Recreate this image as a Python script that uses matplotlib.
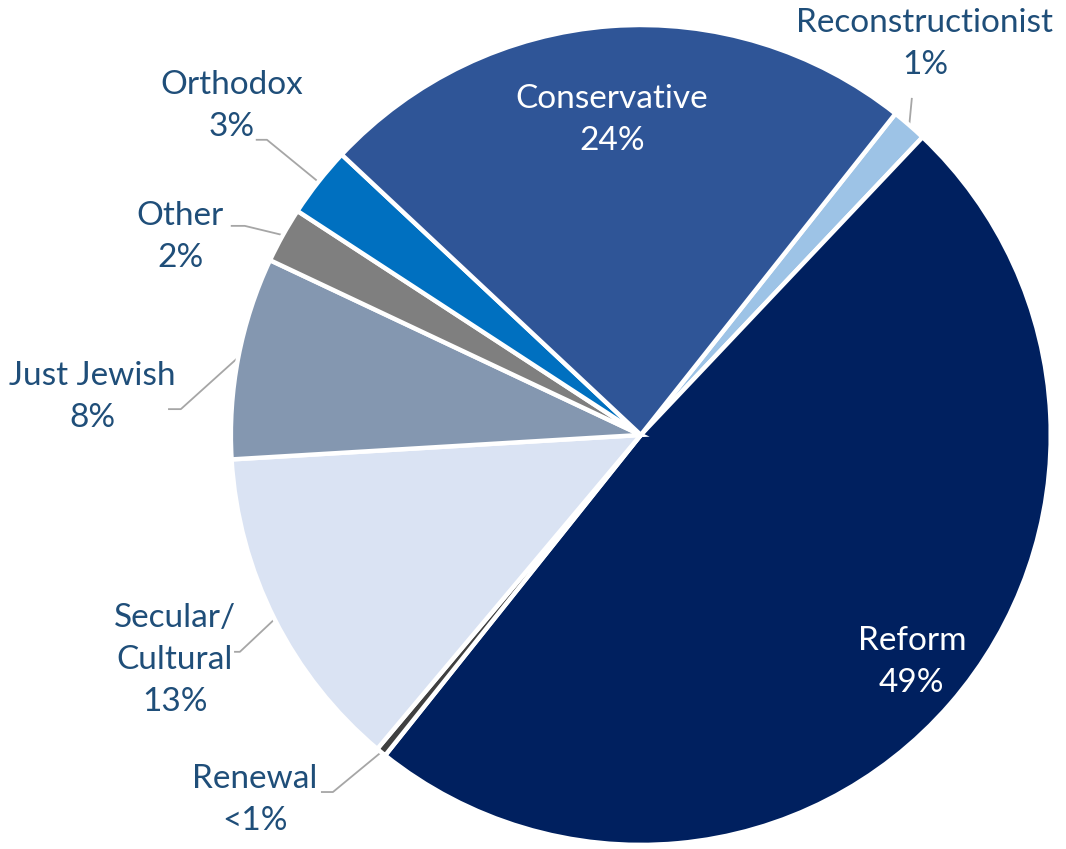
import numpy as np
import matplotlib
matplotlib.use("Agg")
import matplotlib.pyplot as plt

# Данные (по часовой стрелке, начиная с Reconstructionist)
labels = ["Reconstructionist", "Reform", "Renewal", "Secular/\nCultural",
          "Just Jewish", "Other", "Orthodox", "Conservative"]
shares = [1.4, 48.9, 0.4, 13.0, 8.0, 2.2, 2.8, 23.8]
pct_text = ["1%", "49%", "<1%", "13%", "8%", "2%", "3%", "24%"]
colors = ["#9DC3E6", "#00205F", "#404040", "#DAE3F3",
          "#8497B0", "#7F7F7F", "#0070C0", "#2F5597"]

# Позиции подписей (центр текста) и излом выносной линии, в координатах круга
label_pos = [(0.693, 0.954), (0.661, -0.554), (-0.941, -0.890), (-1.137, -0.549),
             (-1.337, 0.093), (-1.124, 0.483), (-0.998, 0.802), (-0.071, 0.768)]
leader_start = [(0.661, 0.820), None, (-0.778, -0.871), (-0.990, -0.529),
                (-1.151, 0.063), (-0.998, 0.510), (-0.937, 0.720), None]
leader_elbow = [None, None, (-0.751, -0.871), (-0.978, -0.529),
                (-1.122, 0.063), (-0.966, 0.510), (-0.912, 0.720), None]
inside = [False, True, False, False, False, False, False, True]

text_color = "#1F4E79"
line_color = "#A6A6A6"

fig = plt.figure(figsize=(10.66, 8.49), dpi=100)
ax = fig.add_axes([0, 0, 1, 1])

wedges, _ = ax.pie(shares, colors=colors, startangle=51.6, counterclock=False,
                   radius=1.0, center=(0, 0),
                   wedgeprops=dict(edgecolor="white", linewidth=3.2))

for i, w in enumerate(wedges):
    tx, ty = label_pos[i]
    col = "white" if inside[i] else text_color
    ax.text(tx, ty, f"{labels[i]}\n{pct_text[i]}", ha="center", va="center",
            fontsize=24, color=col, family="Lato", linespacing=1.5)
    if leader_start[i] is not None:
        ang = np.deg2rad((w.theta1 + w.theta2) / 2)
        end = (np.cos(ang), np.sin(ang))
        pts = [leader_start[i]]
        if leader_elbow[i] is not None:
            pts.append(leader_elbow[i])
        pts.append(end)
        xs, ys = zip(*pts)
        ax.plot(xs, ys, color=line_color, linewidth=1.3, zorder=0)

ax.set_xlim(-1.563, 1.037)
ax.set_ylim(-1.010, 1.061)
ax.set_aspect("equal")
ax.axis("off")

fig.savefig("out.png", dpi=100)
